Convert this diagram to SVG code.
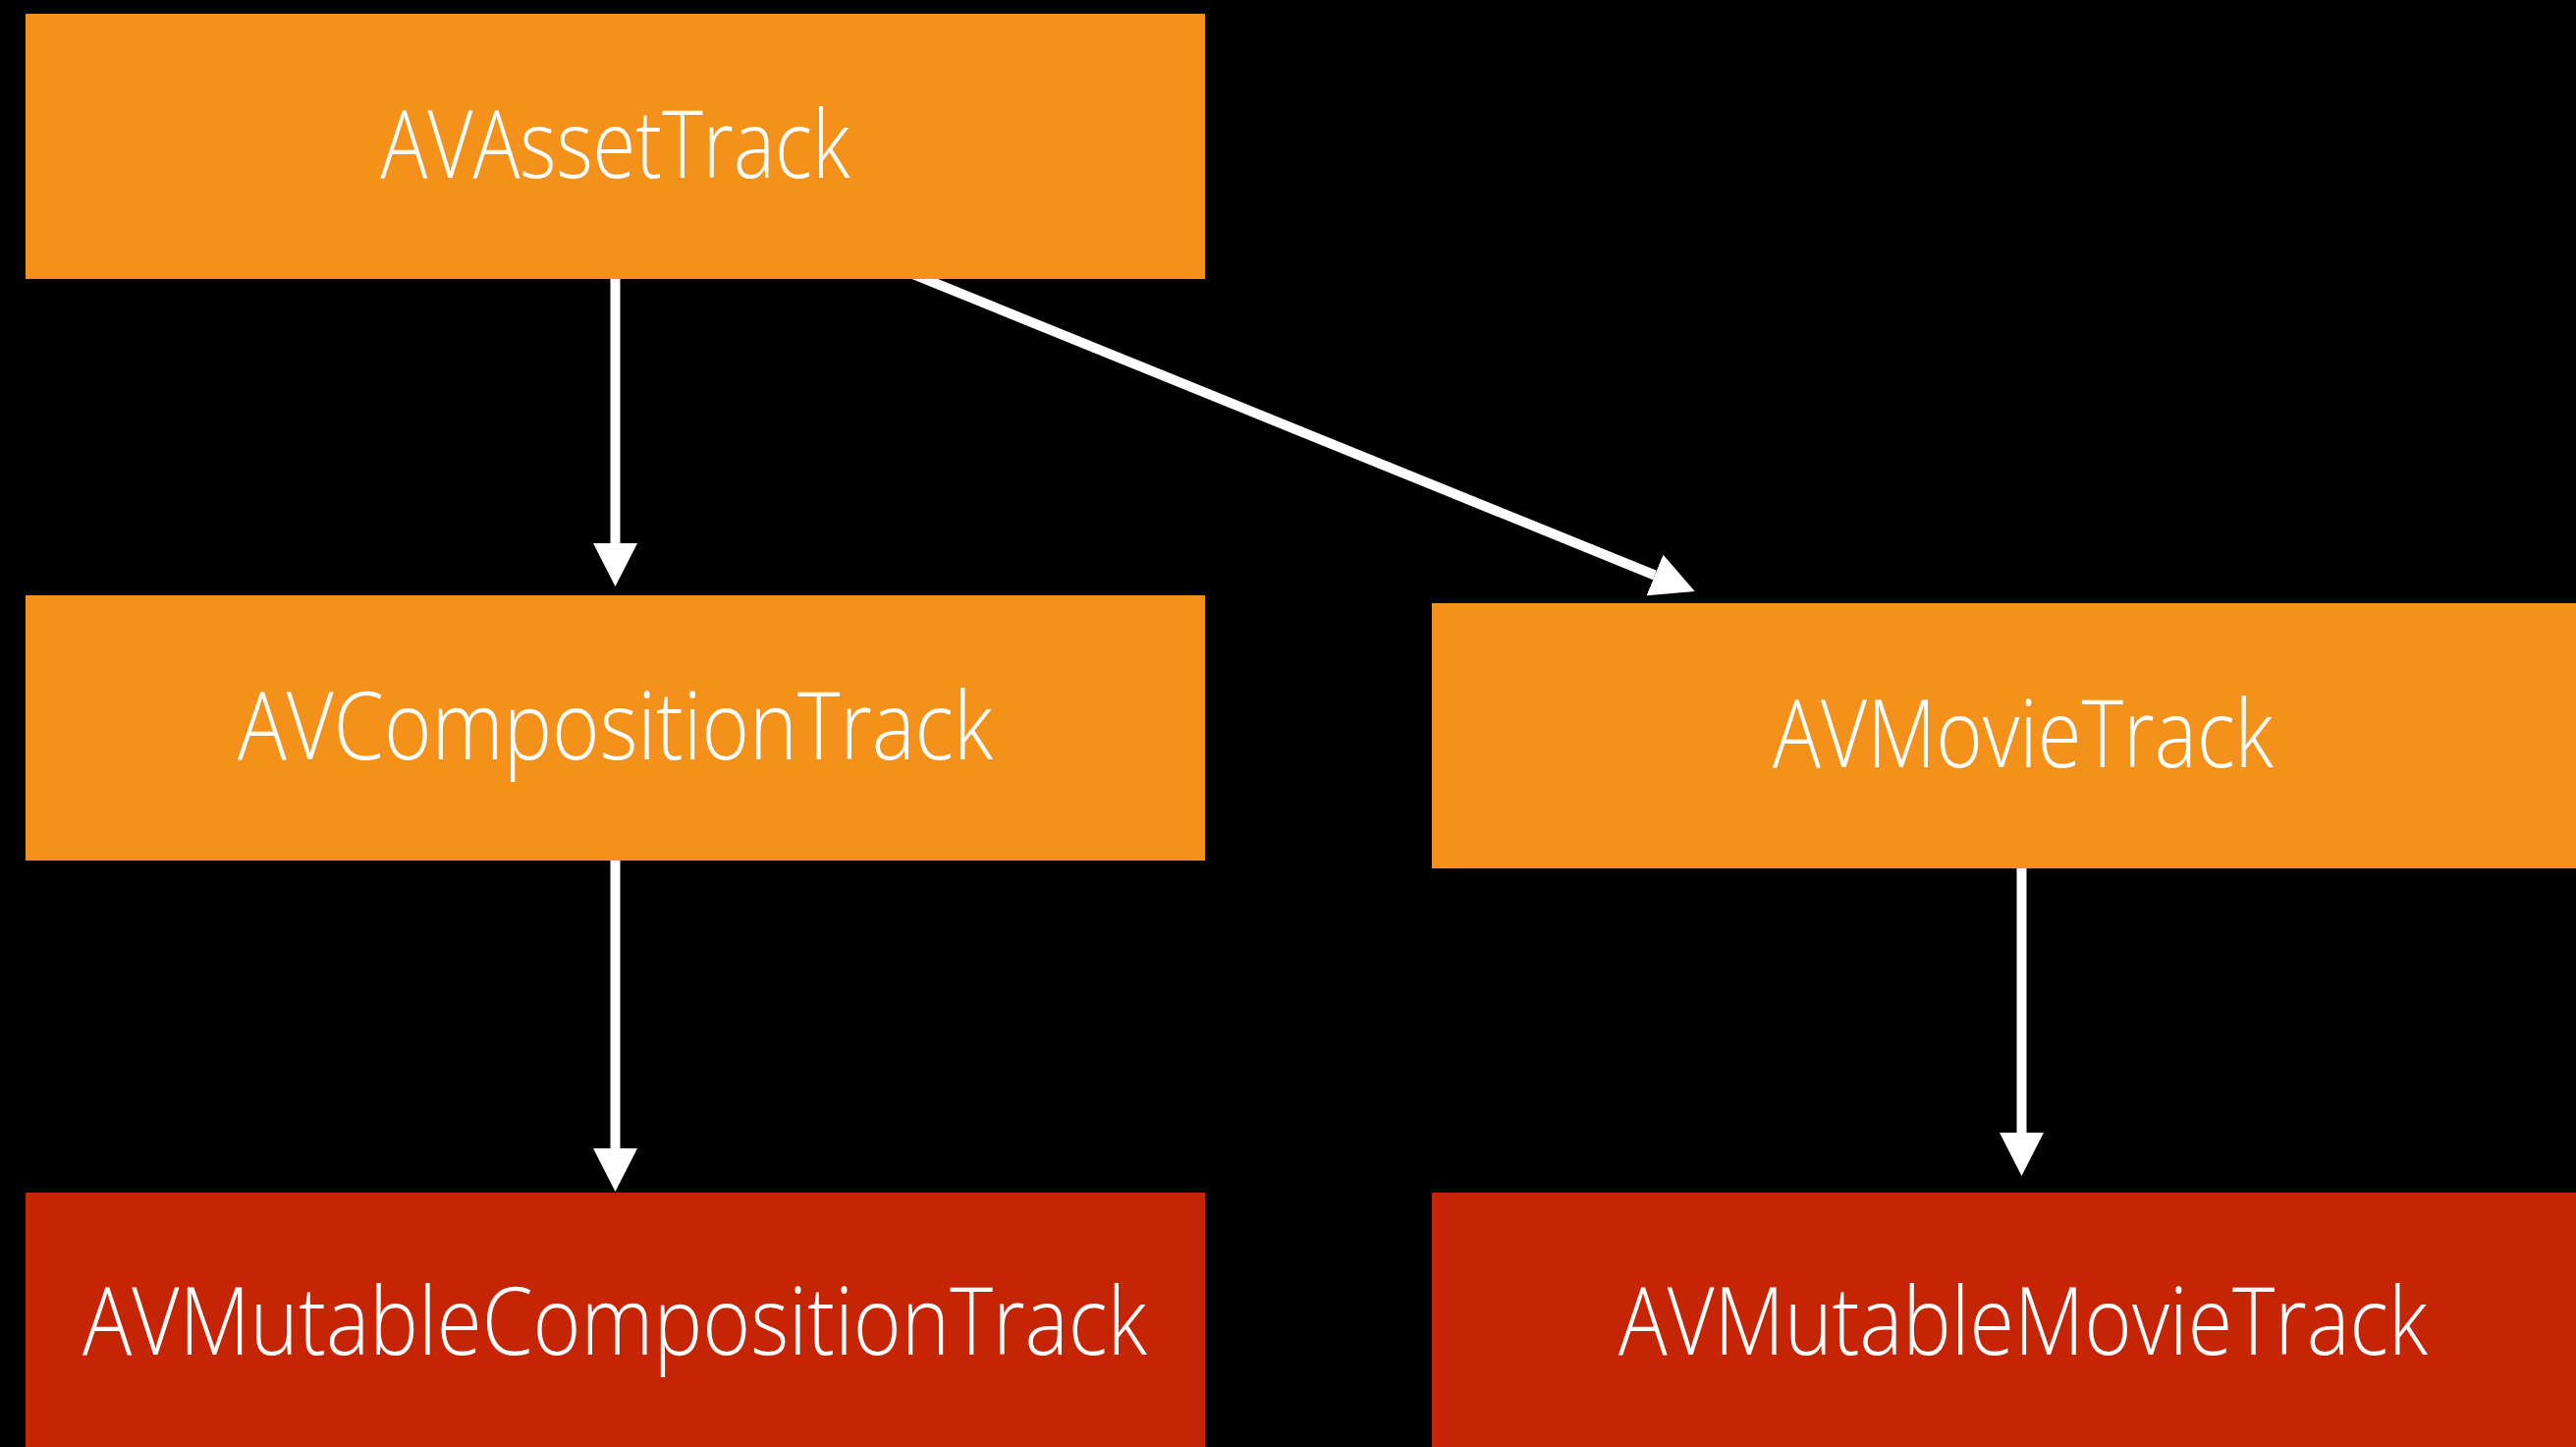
<svg xmlns="http://www.w3.org/2000/svg" width="2623" height="1473" viewBox="0 0 2623 1473">
  <style>
    .bg { fill: #000000; }
    .base { fill: #F3911A; }
    .mutable { fill: #C52405; }
    .label { font-family: "Open Sans", "Noto Sans", "Liberation Sans", sans-serif; font-weight: 300; font-size: 95px; fill: #FFFFFF; text-anchor: middle; }
    .edge { stroke: #FFFFFF; stroke-width: 10; fill: none; }
  </style>
  <defs>
    <marker id="head" viewBox="0 0 44 45" refX="0" refY="22.5" markerWidth="44" markerHeight="45" markerUnits="userSpaceOnUse" orient="auto">
      <path d="M0,0 L44,22.5 L0,45 Z" fill="#FFFFFF"/>
    </marker>
  </defs>

  <rect class="bg" x="0" y="0" width="2623" height="1473"/>

  <!-- inheritance arrows, drawn under the boxes -->
  <g id="connectors">
    <line class="edge" x1="626.5" y1="270" x2="626.5" y2="553" marker-end="url(#head)"/>
    <line class="edge" x1="900.3" y1="267.1" x2="1685" y2="585.5" marker-end="url(#head)"/>
    <line class="edge" x1="626.5" y1="870" x2="626.5" y2="1169" marker-end="url(#head)"/>
    <line class="edge" x1="2058.5" y1="878" x2="2058.5" y2="1153" marker-end="url(#head)"/>
  </g>

  <g id="AVAssetTrack">
    <rect class="base" x="26" y="14" width="1201" height="270"/>
    <text class="label" x="626.5" y="181" textLength="478" lengthAdjust="spacingAndGlyphs">AVAssetTrack</text>
  </g>

  <g id="AVCompositionTrack">
    <rect class="base" x="26" y="606" width="1201" height="270"/>
    <text class="label" x="626.5" y="773" textLength="769" lengthAdjust="spacingAndGlyphs">AVCompositionTrack</text>
  </g>

  <g id="AVMovieTrack">
    <rect class="base" x="1458" y="614" width="1201" height="270"/>
    <text class="label" x="2060" y="781" textLength="510" lengthAdjust="spacingAndGlyphs">AVMovieTrack</text>
  </g>

  <g id="AVMutableCompositionTrack">
    <rect class="mutable" x="26" y="1214" width="1201" height="270"/>
    <text class="label" x="626" y="1379" textLength="1084" lengthAdjust="spacingAndGlyphs">AVMutableCompositionTrack</text>
  </g>

  <g id="AVMutableMovieTrack">
    <rect class="mutable" x="1458" y="1214" width="1201" height="270"/>
    <text class="label" x="2060" y="1379" textLength="824" lengthAdjust="spacingAndGlyphs">AVMutableMovieTrack</text>
  </g>
</svg>
